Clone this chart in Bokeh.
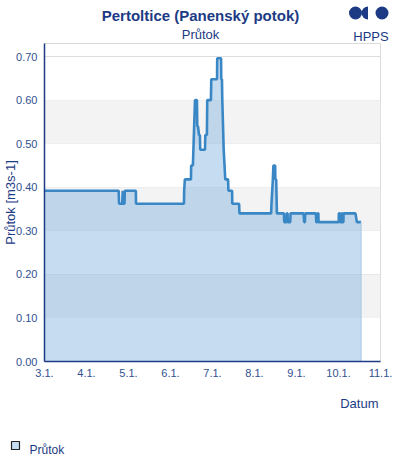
from datetime import datetime, timedelta
import math
from bokeh.plotting import figure
from bokeh.layouts import column
from bokeh.models import (Range1d, FixedTicker, BoxAnnotation,
                          ColumnDataSource, NumeralTickFormatter)
from bokeh.core.properties import value
from bokeh.embed import file_html
from bokeh.resources import INLINE

# ---------------- data ----------------
title_text = "Pertoltice (Panenský potok)"
subtitle_text = "Průtok"
series_name = "Průtok"
y_label = "Průtok [m3s-1]"
x_label = "Datum"
logo_text = "HPPS"

start = datetime(2021, 1, 3)
# hours after 3.1. 00:00
hours = [0, 42.4, 42.6, 44.4, 44.7, 45.0, 45.7, 45.9, 52.2, 52.3,
         79.7, 79.8, 80.2, 83.7, 83.8, 84.8, 86.0, 87.1, 87.3, 87.7,
         88.3, 88.8, 89.0, 91.7, 91.9, 92.8, 93.0, 95.1, 95.3, 98.6,
         98.7, 100.9, 101.0, 101.4, 101.6, 102.4, 103.3, 104.9, 105.1, 107.2,
         107.3, 111.2, 111.4, 129.5, 129.7, 130.5, 130.8, 131.8, 131.9, 132.4,
         132.8, 136.8, 137.0, 138.3, 138.4, 138.9, 139.0, 140.4, 140.6, 148.0,
         148.4, 148.8, 149.0, 155.1, 155.3, 155.9, 156.1, 156.5, 156.6, 168.1,
         168.2, 168.8, 168.9, 169.7, 169.8, 170.1, 170.2, 170.8, 170.9, 177.7,
         178.5, 180.9]
flow = [0.392, 0.392, 0.362, 0.362, 0.392, 0.362, 0.362, 0.392, 0.392, 0.362,
        0.362, 0.392, 0.418, 0.418, 0.45, 0.45, 0.60, 0.60, 0.54, 0.54,
        0.52, 0.52, 0.486, 0.486, 0.52, 0.52, 0.60, 0.60, 0.648, 0.648,
        0.696, 0.696, 0.648, 0.648, 0.60, 0.486, 0.418, 0.418, 0.392, 0.392,
        0.362, 0.362, 0.34, 0.34, 0.362, 0.418, 0.45, 0.45, 0.418, 0.418,
        0.34, 0.34, 0.32, 0.32, 0.34, 0.34, 0.32, 0.32, 0.34, 0.34,
        0.32, 0.32, 0.34, 0.34, 0.32, 0.32, 0.34, 0.34, 0.32, 0.32,
        0.34, 0.34, 0.32, 0.32, 0.34, 0.34, 0.32, 0.32, 0.34, 0.34,
        0.32, 0.32]

tick_days = [0, 1, 2, 3, 4, 5, 6, 7, 8]
tick_labels = ["3.1.", "4.1.", "5.1.", "6.1.", "7.1.", "8.1.", "9.1.", "10.1.", "11.1."]
y_ticks = [0.0, 0.1, 0.2, 0.3, 0.4, 0.5, 0.6, 0.7]

# ---------------- style ----------------
W = 400
HEAD_H, MAIN_H, FOOT_H = 43, 342, 75
NAVY = "#1d3b84"
TICKC = "#30508f"
FONT = "Liberation Sans"
LINE = "#3a87c6"


def blank(height):
    f = figure(width=W, height=height, output_backend="svg", toolbar_location=None,
               x_range=Range1d(0, W), y_range=Range1d(height, 0),
               x_axis_location=None, y_axis_location=None, min_border=0,
               frame_align=False)
    f.grid.visible = False
    f.outline_line_color = None
    f.background_fill_color = "white"
    f.border_fill_color = "white"
    return f


def txt(f, text, x, y, size, align="center", bold=False, color=NAVY):
    f.text(x=[x], y=[y], text=[text], text_font=value(FONT), text_font_size=value(size),
           text_color=color, text_align=align, text_baseline="alphabetic",
           text_font_style="bold" if bold else "normal")


# ---------------- header ----------------
head = blank(HEAD_H)
txt(head, title_text, 200, 15, "15px", bold=True)
txt(head, subtitle_text, 200, 34, "13px")
txt(head, logo_text, 370.5, 35.5, "13px")
head.scatter(x=[355, 381.5], y=[12.5, 12.5], size=13, marker="circle",
             fill_color=NAVY, line_color=None)
head.wedge(x=[367.5], y=[12.5], radius=6.5, start_angle=math.pi / 2,
           end_angle=3 * math.pi / 2, fill_color=NAVY, line_color=None)

# ---------------- main chart ----------------
times = [start + timedelta(hours=h) for h in hours]
src = ColumnDataSource(dict(t=times, q=flow, z=[0.0] * len(flow)))

p = figure(width=W, height=MAIN_H, output_backend="svg", toolbar_location=None,
           x_axis_type="datetime",
           x_range=Range1d(start, start + timedelta(days=8)),
           y_range=Range1d(0, 0.73),
           min_border_left=44, min_border_right=20,
           min_border_top=0, min_border_bottom=24, frame_align=False)
p.outline_line_color = "#d9d9d9"
p.background_fill_color = "white"
p.border_fill_color = "white"

for lo, hi in zip(y_ticks[1::2], y_ticks[2::2]):
    p.add_layout(BoxAnnotation(bottom=lo, top=hi, fill_color="#f3f3f3",
                               fill_alpha=1, line_color=None, level="underlay"))

p.xgrid.visible = False
p.ygrid.grid_line_color = "#dddddd"
p.ygrid.grid_line_width = 1
p.ygrid.ticker = FixedTicker(ticks=y_ticks)

ms = [(start + timedelta(days=d) - datetime(1970, 1, 1)).total_seconds() * 1000.0 for d in tick_days]
p.xaxis.ticker = FixedTicker(ticks=ms)
p.xaxis.major_label_overrides = {m: l for m, l in zip(ms, tick_labels)}
p.yaxis.ticker = FixedTicker(ticks=y_ticks)
p.yaxis.formatter = NumeralTickFormatter(format="0.00")
for ax in (p.xaxis[0], p.yaxis[0]):
    ax.axis_line_color = NAVY
    ax.axis_line_width = 1.5
    ax.major_tick_line_color = None
    ax.minor_tick_line_color = None
    ax.major_tick_out = 0
    ax.major_tick_in = 0
    ax.major_label_text_font = FONT
    ax.major_label_text_font_size = "11px"
    ax.major_label_text_color = TICKC
    ax.major_label_standoff = 7
p.yaxis.axis_label = y_label
p.yaxis.axis_label_text_font = FONT
p.yaxis.axis_label_text_font_size = "13px"
p.yaxis.axis_label_text_font_style = "normal"
p.yaxis.axis_label_text_color = NAVY
p.yaxis.axis_label_standoff = -5

p.varea(x="t", y1="z", y2="q", source=src, fill_color="#76addd", fill_alpha=0.42)
p.line(x="t", y="q", source=src, line_color=LINE, line_width=2.6)
p.segment(x0=[times[-1]], y0=[0], x1=[times[-1]], y1=[flow[-1]],
          line_color="#a9c6e2", line_width=1)

# ---------------- footer ----------------
foot = blank(FOOT_H)
txt(foot, x_label, 378, 18, "13px", align="right")
foot.rect(x=[15], y=[60], width=8, height=8, fill_color="#c6ddf1",
          line_color="#222222", line_width=1.2)
txt(foot, series_name, 29, 64, "12px", align="left")

layout = column(head, p, foot, spacing=0)
open("out.html", "w").write(file_html(layout, INLINE))
